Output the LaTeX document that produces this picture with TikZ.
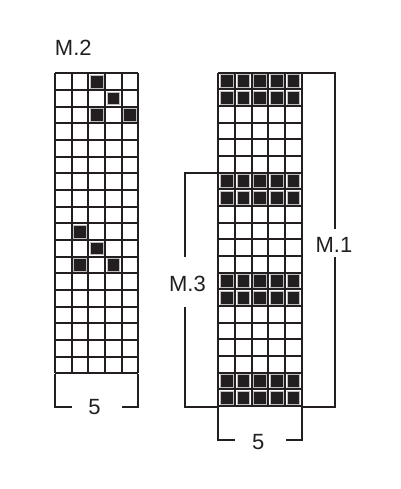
\documentclass[tikz,border=0pt]{standalone}
\usepackage{fontspec}
\setmainfont{Liberation Sans}
\definecolor{ink}{HTML}{231F20}
\begin{document}
\begin{tikzpicture}[x=1pt,y=-1pt,
  gridline/.style={draw=ink,line width=1.8pt},
  bracket/.style={draw=ink,line width=1.8pt},
  blk/.style={fill=ink,draw=black!25,line width=0.6pt},
  lbl/.style={font=\fontsize{22}{26}\selectfont,text=ink,inner sep=0pt}]
\useasboundingbox (0,0) rectangle (400,489);
\def\cs{16.667}
\def\ins{1.9}
% ---------- left grid M.2 ----------
\def\lx{55}\def\ly{73.3}
\foreach \r in {0,...,18} \draw[gridline] (\lx,\ly+\r*\cs) -- (\lx+5*\cs,\ly+\r*\cs);
\foreach \c in {0,...,5} \draw[gridline] (\lx+\c*\cs,\ly) -- (\lx+\c*\cs,\ly+18*\cs);
\foreach \r/\c in {1/3,2/4,3/3,3/5,10/2,11/3,12/2,12/4}
  \draw[blk] (\lx+\c*\cs-\cs+\ins,\ly+\r*\cs-\cs+\ins) rectangle (\lx+\c*\cs-\ins,\ly+\r*\cs-\ins);
% ---------- right grid M.1 ----------
\def\rx{218.3}\def\ry{72.7}
\foreach \r in {0,...,20} \draw[gridline] (\rx,\ry+\r*\cs) -- (\rx+5*\cs,\ry+\r*\cs);
\foreach \c in {0,...,5} \draw[gridline] (\rx+\c*\cs,\ry) -- (\rx+\c*\cs,\ry+20*\cs);
\foreach \r in {1,2,7,8,13,14,19,20}
  \foreach \c in {1,...,5}
    \draw[blk] (\rx+\c*\cs-\cs+\ins,\ry+\r*\cs-\cs+\ins) rectangle (\rx+\c*\cs-\ins,\ry+\r*\cs-\ins);
% ---------- labels ----------
\node[lbl] (m2) at (73.3,48.3) {M.2};
\node[lbl] (m1) at (334,245) {M.1};
\node[lbl] (m3) at (187.5,284) {M.3};
\node[lbl] (f1) at (94.5,406.7) {5};
\node[lbl] (f2) at (258.3,441.7) {5};
% ---------- brackets ----------
\coordinate (a1) at (55,374);
\coordinate (a2) at (138.3,374);
\draw[bracket] (a1) -- (55,406.7) -- (71.7,406.7);
\draw[bracket] (a2) -- (138.3,406.7) -- (121.7,406.7);
\coordinate (b1) at (218.3,406.7);
\coordinate (b2) at (301.7,406.7);
\draw[bracket] (b1) -- (218.3,440) -- (235,440);
\draw[bracket] (b2) -- (301.7,440) -- (286,440);
\coordinate (c1) at (301.7,72.7);
\draw[bracket] (c1) -- (335,72.7) -- (335,229);
\draw[bracket] (335,257) -- (335,406.7) -- (b2);
\coordinate (d1) at (218.3,173.3);
\draw[bracket] (d1) -- (185,173.3) -- (185,257.3);
\draw[bracket] (185,307.3) -- (185,406.7) -- (b1);
\end{tikzpicture}
\end{document}
